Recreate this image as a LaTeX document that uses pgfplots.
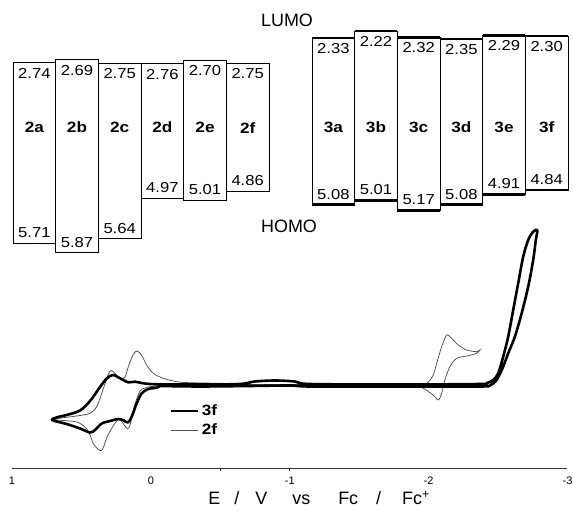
\documentclass[border=0pt]{standalone}
\usepackage{pgfplots}
\pgfplotsset{compat=1.18}
\usepackage{fontspec}
\setmainfont{Liberation Sans}
\newfontfamily\stretchfont[FakeStretch=1.15]{Liberation Sans}
\newcommand{\numfont}{\stretchfont\fontsize{14.5}{14.5}\selectfont}
\newcommand{\namefont}{\stretchfont\bfseries\fontsize{15}{15}\selectfont}
% box: x0, x1, LUMO, HOMO, line width
\newcommand{\ebox}[5]{\addplot[black, line width=#5, line cap=rect, line join=miter, forget plot] coordinates {(#1,#3) (#2,#3) (#2,#4) (#1,#4) (#1,#3)};}
\newcommand{\eboxthick}[4]{\ebox{#1}{#2}{#3}{#4}{0.9bp}%
  \addplot[black, line width=2.6bp, forget plot] coordinates {(#1,#3) (#2,#3)};%
  \addplot[black, line width=2.6bp, forget plot] coordinates {(#1,#4) (#2,#4)};}

\begin{document}
\begin{tikzpicture}[x=1bp,y=1bp]
\useasboundingbox (0,0) rectangle (573bp,513bp);
% ---------------- energy level diagram (eV) ----------------
\begin{axis}[at={(0bp,0bp)}, anchor=south west, scale only axis,
  width=573bp, height=513bp,
  xmin=0, xmax=573, ymin=1.70705, ymax=10.1585, y dir=reverse,
  hide axis, clip=false]
% 2a-2f
\ebox{13}{55.67}{2.74}{5.71}{0.9bp}
\ebox{98.33}{141}{2.75}{5.64}{0.9bp}
\ebox{141}{183.67}{2.76}{4.97}{0.9bp}
\ebox{226.33}{269}{2.75}{4.86}{0.9bp}
\ebox{55.67}{98.33}{2.69}{5.87}{1.4bp}
\ebox{183.67}{226.33}{2.70}{5.01}{1.4bp}
% 3a-3f
\eboxthick{312}{354.67}{2.33}{5.08}
\eboxthick{354.67}{397.33}{2.22}{5.01}
\eboxthick{397.33}{440}{2.32}{5.17}
\eboxthick{440}{482.67}{2.35}{5.08}
\eboxthick{482.67}{525.33}{2.29}{4.91}
\eboxthick{525.33}{568}{2.30}{4.84}
% LUMO values
\addplot[only marks, mark=*, mark size=0pt, mark options={draw=none,fill=none}, forget plot,
  point meta=y,
  nodes near coords={\pgfmathprintnumber[fixed,fixed zerofill,precision=2,assume math mode=true]{\pgfplotspointmeta}},
  every node near coord/.append style={anchor=center, yshift=-10.5bp, font=\numfont, text=black, inner sep=0pt}]
  coordinates {(34.33,2.74) (77,2.69) (119.67,2.75) (162.33,2.76) (205,2.70) (247.67,2.75)
               (333.33,2.33) (376,2.22) (418.67,2.32) (461.33,2.35) (504,2.29) (546.67,2.30)};
% HOMO values
\addplot[only marks, mark=*, mark size=0pt, mark options={draw=none,fill=none}, forget plot,
  point meta=y,
  nodes near coords={\pgfmathprintnumber[fixed,fixed zerofill,precision=2,assume math mode=true]{\pgfplotspointmeta}},
  every node near coord/.append style={anchor=center, yshift=10.5bp, font=\numfont, text=black, inner sep=0pt}]
  coordinates {(34.33,5.71) (77,5.87) (119.67,5.64) (162.33,4.97) (205,5.01) (247.67,4.86)
               (333.33,5.08) (376,5.01) (418.67,5.17) (461.33,5.08) (504,4.91) (546.67,4.84)};
% compound names
\addplot[only marks, mark=*, mark size=0pt, mark options={draw=none,fill=none}, forget plot,
  point meta=explicit symbolic, nodes near coords,
  every node near coord/.append style={anchor=center, font=\namefont, text=black, inner sep=0pt}]
  table[meta=n] {
x y n
34.33 3.81 2a
77 3.81 2b
119.67 3.81 2c
162.33 3.81 2d
205 3.81 2e
247.67 3.81 2f
333.33 3.80 3a
376 3.80 3b
418.67 3.80 3c
461.33 3.80 3d
504 3.80 3e
546.67 3.80 3f
};
\end{axis}
\node[font=\fontsize{18}{18}\selectfont] at (287bp,493bp) {LUMO};
\node[font=\fontsize{18}{18}\selectfont] at (289bp,286.5bp) {HOMO};
% ---------------- cyclic voltammogram ----------------
\begin{axis}[at={(12bp,45bp)}, anchor=south west, scale only axis,
  width=555.5bp, height=248bp,
  xmin=-3, xmax=1, x dir=reverse, ymin=0, ymax=248, clip=false,
  axis x line=bottom, axis y line=none,
  axis line style={-, black!80, line width=0.8bp},
  xtick={1,0,-1,-2,-3}, xticklabels={1,0,-1,-2,-3}, major tick length=0pt,
  extra x ticks={-0.5,-1}, extra x tick labels={},
  extra x tick style={major tick length=3bp, tick align=outside, tick style={black!80, line width=0.6bp}},
  xticklabel style={font=\fontsize{11}{11}\selectfont, yshift=-5bp},
  xlabel={E\hspace{14bp}/\hspace{16bp}V\hspace{25bp}vs\hspace{28bp}Fc\hspace{18bp}/\hspace{21bp}Fc\textsuperscript{+}},
  xlabel style={at={(axis description cs:0.553,0)}, anchor=center, yshift=-30bp, font=\fontsize{18}{18}\selectfont},
  legend style={draw=none, fill=none, at={(axis cs:-0.1375,47.5)}, anchor=west, inner sep=0pt,
    row sep=3bp, font=\namefont, cells={anchor=west}},
  legend image code/.code={\draw[#1] (0bp,0bp) -- (27bp,0bp);},
  reverse legend]
\addplot[black!70, line width=0.75bp, smooth] coordinates {
(-0.066,83.5) (-1.889,83.5) (-1.986,84.7) (-2.033,93) (-2.058,104.7) (-2.094,121.3) (-2.130,133)
(-2.166,129.7) (-2.213,123) (-2.274,118) (-2.346,116.3) (-2.369,118) (-2.346,114.7) (-2.274,112)
(-2.202,109.7) (-2.153,101.3) (-2.117,88) (-2.094,74.7) (-2.069,68) (-2.033,73) (-1.961,79.7)
(-1.889,83) (-0.354,83) (-0.138,82.5) (0.006,81.3) (0.042,80) (0.078,77) (0.114,64) (0.150,43)
(0.170,39.5) (0.199,44.5) (0.222,48.5) (0.246,47) (0.282,39.7) (0.318,30) (0.338,22) (0.354,17.5)
(0.377,18.5) (0.415,24.5) (0.438,33) (0.474,41) (0.534,46) (0.631,47.5) (0.712,48.5) (0.606,50.7)
(0.510,52.5) (0.438,54.7) (0.390,61.3) (0.343,79) (0.307,93.5) (0.284,97.5) (0.258,94.5)
(0.222,89.5) (0.186,91) (0.163,101) (0.127,113.5) (0.098,117) (0.066,112.5) (0.030,103)
(-0.017,94.7) (-0.089,89.7) (-0.186,86.3) (-0.281,85.3) (-0.569,84.5)};
\addlegendentry{2f}
\addplot[black, line width=2.6bp, smooth, line join=round] coordinates {
(-0.066,82) (-0.042,80.3) (0.019,79) (0.066,74.7) (0.102,64.7) (0.138,51.3) (0.165,45.5)
(0.194,47.5) (0.235,49) (0.294,47) (0.354,44.5) (0.402,38) (0.438,35.5) (0.510,39.5) (0.606,44)
(0.712,48) (0.669,51) (0.606,53) (0.510,57.5) (0.438,67) (0.366,81) (0.318,89.5) (0.273,93)
(0.222,89.7) (0.163,85.7) (0.114,86.3) (0.055,84.7) (-0.042,83.7) (-0.354,83.5) (-0.641,84)
(-0.749,86.5) (-0.893,87.5) (-1.037,86.5) (-1.145,84) (-1.793,83.5) (-2.369,84) (-2.420,85)
(-2.465,88) (-2.501,94.7) (-2.537,111.3) (-2.573,131.3) (-2.609,158) (-2.645,184.7) (-2.681,211.3)
(-2.717,228) (-2.753,236.3) (-2.783,238) (-2.772,228) (-2.753,208) (-2.717,181.3) (-2.670,154.7)
(-2.621,131.3) (-2.573,114.7) (-2.537,101.3) (-2.490,88) (-2.441,82.5) (-2.369,81.5) (-1.793,81.5)
(-1.145,81.5) (-1.001,82.5) (-0.713,82) (-0.354,81.5) (-0.066,82)};
\addlegendentry{3f}
\end{axis}
\end{tikzpicture}
\end{document}
